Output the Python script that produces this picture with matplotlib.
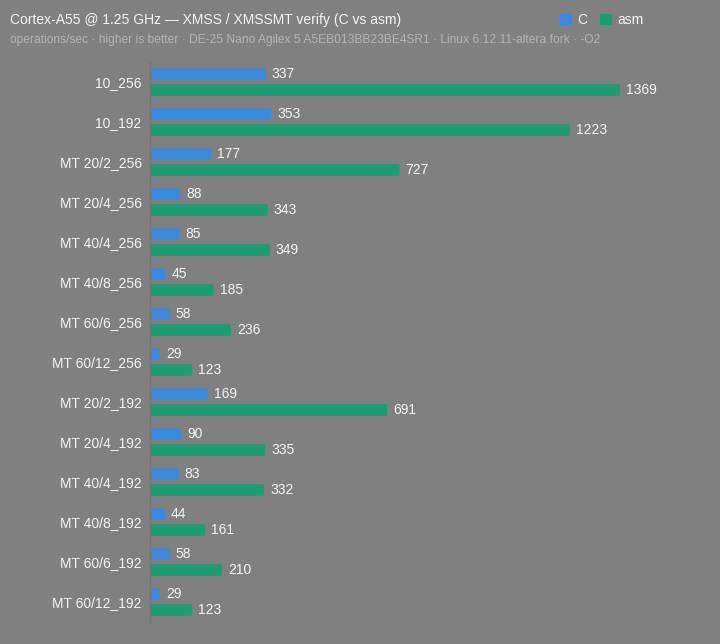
import matplotlib
matplotlib.use("Agg")
import matplotlib.pyplot as plt
from matplotlib.patches import FancyBboxPatch, Patch
import numpy as np

plt.rcParams['font.family'] = ['Liberation Sans', 'DejaVu Sans']

categories = ["10_256", "10_192", "MT 20/2_256", "MT 20/4_256", "MT 40/4_256",
              "MT 40/8_256", "MT 60/6_256", "MT 60/12_256", "MT 20/2_192",
              "MT 20/4_192", "MT 40/4_192", "MT 40/8_192", "MT 60/6_192",
              "MT 60/12_192"]
c_values = [337, 353, 177, 88, 85, 45, 58, 29, 169, 90, 83, 44, 58, 29]
asm_values = [1369, 1223, 727, 343, 349, 185, 236, 123, 691, 335, 332, 161, 210, 123]
series_names = ["C", "asm"]

title = "Cortex-A55 @ 1.25 GHz \u2014 XMSS / XMSSMT verify (C vs asm)"
subtitle = ("operations/sec \u00b7 higher is better \u00b7 DE-25 Nano Agilex 5 A5EB013BB23BE4SR1 "
            "\u00b7 Linux 6.12.11-altera fork \u00b7 -O2")

BG = "#808080"
BLUE = "#3a8ade"
GREEN = "#1d9d74"

W, H = 720, 644
fig = plt.figure(figsize=(W / 100, H / 100), dpi=100, facecolor=BG)
ax = fig.add_axes([150 / W, 1 - 622 / H, 550 / W, 560 / H], facecolor=BG)

px_per_unit_x = 0.3433
xmax = 550 / px_per_unit_x
y = np.arange(len(categories))
bh = 0.29
off = 0.2
b1 = ax.barh(y - off, c_values, height=bh, color=BLUE)
b2 = ax.barh(y + off, asm_values, height=bh, color=GREEN)

ax.set_xlim(0, xmax)
ax.set_ylim(len(categories) - 0.5, -0.5)

# rounded corners (~2 px) built from the bar geometry
rpx = 2.0
r_units = rpx / px_per_unit_x
aspect = (1 / 40) / (1 / px_per_unit_x)
for bars, col in ((b1, BLUE), (b2, GREEN)):
    for rect in bars:
        x0, y0 = rect.get_x(), rect.get_y()
        w, h = rect.get_width(), rect.get_height()
        rect.set_visible(False)
        ax.add_patch(FancyBboxPatch((x0, y0), w, h,
                                    boxstyle=f"round,pad=0,rounding_size={r_units}",
                                    mutation_aspect=aspect, facecolor=col,
                                    edgecolor="none", linewidth=0))

for bars, vals in ((b1, c_values), (b2, asm_values)):
    for rect, v in zip(bars, vals):
        ax.annotate(f"{v}", (rect.get_width(), rect.get_y() + rect.get_height() / 2),
                    xytext=(6 * 0.72, 0), textcoords="offset points", va="center", ha="left",
                    color="#f4f4f4", fontsize=10, clip_on=False)

ax.set_yticks(y)
ax.set_yticklabels(categories, color="#f4f4f4", fontsize=10)
ax.tick_params(axis="y", length=0, pad=6)
ax.set_xticks([])
for s in ("top", "right", "bottom"):
    ax.spines[s].set_visible(False)
ax.spines["left"].set_color("#747474")
ax.spines["left"].set_linewidth(1)

fig.text(10 / W, 1 - 20 / H, title, color="#f4f4f4", fontsize=10, va="center", ha="left")
fig.text(10 / W, 1 - 40 / H, subtitle, color="#b4b4b4", fontsize=8.65, va="center", ha="left")

handles = [Patch(facecolor=BLUE, edgecolor="none"), Patch(facecolor=GREEN, edgecolor="none")]
leg = fig.legend(handles=handles, labels=series_names, loc="center left",
                 bbox_to_anchor=(560 / W, 1 - 20 / H), ncol=2, frameon=False,
                 fontsize=10, handlelength=0.87, handleheight=0.87,
                 handletextpad=0.36, columnspacing=0.95, borderpad=0, borderaxespad=0)
for t in leg.get_texts():
    t.set_color("#f4f4f4")

fig.savefig("out.png", dpi=100, facecolor=BG)
